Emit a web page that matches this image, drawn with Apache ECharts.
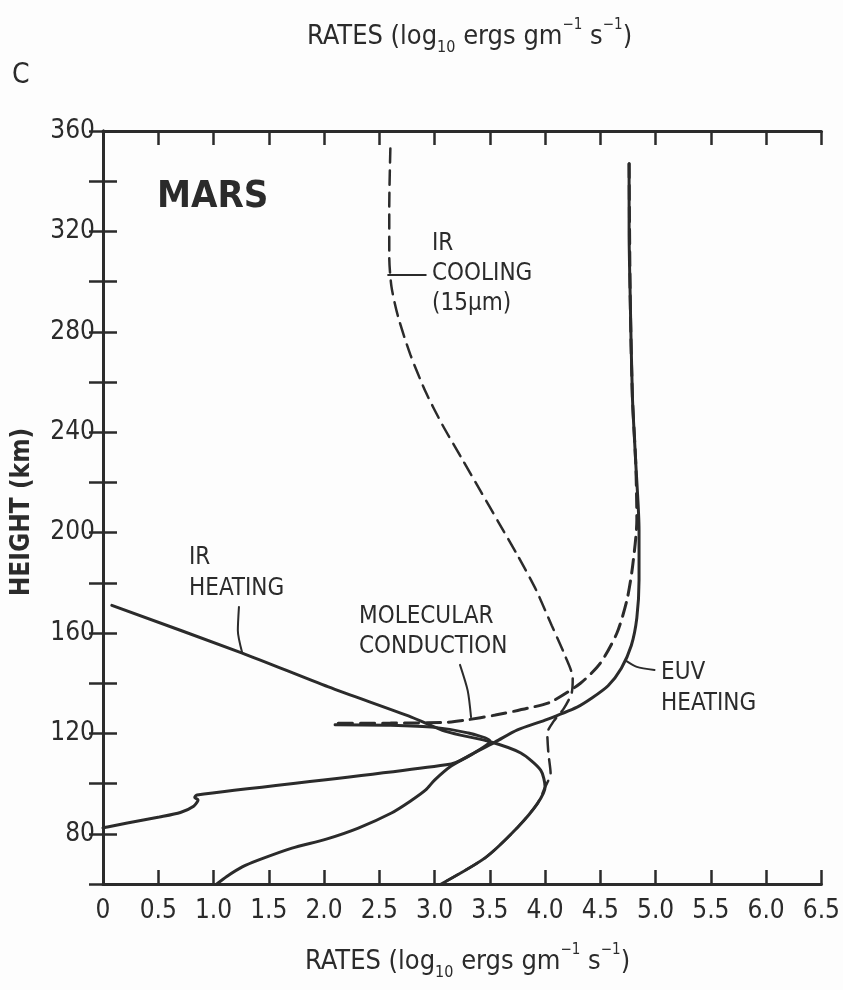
<!DOCTYPE html>
<html>
<head>
<meta charset="utf-8">
<script src="https://cdn.jsdelivr.net/npm/echarts@6/dist/echarts.min.js"></script>
<style>
  html, body { margin: 0; padding: 0; background: #fdfdfd; }
  #chart { width: 843px; height: 990px; }
</style>
</head>
<body>
<div id="chart"></div>
<script>
// rates (log10 ergs/gm/s) vs height (km)
var euvHeating = [
  [4.76, 347], [4.76, 320], [4.77, 294], [4.79, 254], [4.82, 228], [4.85, 201],
  [4.85, 181], [4.83, 166], [4.78, 155], [4.69, 146], [4.57, 139], [4.42, 134],
  [4.29, 130.5], [4.0, 125.3], [3.75, 121.4], [3.55, 116.6], [3.35, 112], [3.15, 107],
  [3.0, 101.4], [2.92, 97.5], [2.78, 93], [2.61, 88.3], [2.31, 82.3], [2.02, 77.9],
  [1.71, 74.3], [1.41, 69.6], [1.26, 66.8], [1.12, 63], [1.03, 60]
];
var irHeating = [
  [0.08, 171], [1.26, 152], [2.04, 138.5], [2.79, 126.5], [3.1, 120.8], [3.51, 116.6],
  [3.78, 112.2], [3.96, 105.4], [4.0, 98.6], [3.93, 92], [3.75, 82.5], [3.46, 70.5], [3.06, 60]
];
var irCooling = [
  [2.60, 353], [2.59, 330], [2.59, 310], [2.61, 298], [2.67, 286], [2.78, 271],
  [2.92, 256], [3.07, 243], [3.24, 230], [3.41, 217], [3.58, 204], [3.75, 191],
  [3.92, 177], [4.06, 163], [4.18, 151], [4.25, 142], [4.24, 136], [4.17, 130],
  [4.08, 125], [4.02, 120], [4.03, 112], [4.05, 104], [4.0, 98.6], [3.93, 92],
  [3.75, 82.5], [3.46, 70.5], [3.06, 60]
];
var conductionUpper = [
  [4.76, 347], [4.77, 294], [4.79, 254], [4.82, 228], [4.83, 205], [4.79, 186],
  [4.74, 173], [4.65, 160], [4.5, 148], [4.32, 140], [4.05, 132.5], [3.84, 130],
  [3.55, 127.3], [3.28, 125.3], [3.1, 124.4], [2.6, 124.1], [2.1, 124]
];
var conductionLower = [
  [2.1, 123.4], [2.6, 123.2], [3.0, 122.4], [3.3, 120.2], [3.5, 117], [3.35, 112],
  [3.15, 107.8], [0.85, 95.5], [0.83, 94.5], [0.86, 93.5], [0.82, 91], [0.7, 88.5],
  [0.51, 86.7], [0.22, 84.3], [0.04, 82.7], [0, 82.3]
];
// label leader lines
var irCoolingLeader = [[2.58, 302.6], [2.92, 302.6]];
var irHeatingLeader = [[1.23, 170.4], [1.22, 161], [1.26, 152]];
var conductionLeader = [[3.23, 147.3], [3.3, 137], [3.33, 126.5]];
var euvLeader = [[4.73, 149], [4.83, 146.5], [4.99, 145.3]];

var xMin = 0, xMax = 6.5, xStep = 0.5;
var yMin = 60, yMax = 360, yStep = 20;

var ink = '#2b2b2b';
var font = "'Liberation Sans Narrow', 'DejaVu Sans Condensed', sans-serif";

var chart = echarts.init(document.getElementById('chart'));

function lineSeries(data, dashed, width) {
  return {
    type: 'line',
    data: data,
    symbol: 'none',
    smooth: 0.25,
    silent: true,
    lineStyle: { color: ink, width: width || 3, type: dashed ? [14, 8] : 'solid', cap: 'round' }
  };
}

var rich = {
  m: { fontSize: 27, fontFamily: font, fontWeight: 'normal', color: ink, lineHeight: 38, verticalAlign: 'middle' },
  s: { fontSize: 16, fontFamily: font, fontWeight: 'normal', color: ink, lineHeight: 16, verticalAlign: 'bottom' },
  p: { fontSize: 15, fontFamily: font, fontWeight: 'normal', color: ink, lineHeight: 15, verticalAlign: 'top' }
};
var axisTitle = '{m|RATES (log}{s|10}{m| ergs gm}{p|−1}{m| s}{p|−1}{m|)}';

var option = {
  backgroundColor: '#fdfdfd',
  animation: false,
  title: [
    { text: axisTitle, left: 302, top: 13, textStyle: { fontWeight: 'normal', rich: rich } },
    { text: axisTitle, left: 300, top: 938, textStyle: { fontWeight: 'normal', rich: rich } }
  ],
  grid: { left: 103, right: 18, top: 131, bottom: 106 },
  xAxis: [
    {
      type: 'value', min: xMin, max: xMax, interval: xStep, position: 'bottom',
      axisLine: { lineStyle: { color: ink, width: 3 } },
      axisTick: { inside: true, length: 14, lineStyle: { color: ink, width: 2.5 } },
      axisLabel: {
        color: ink, fontSize: 26, fontFamily: font, margin: 14,
        formatter: function (v) { return v === 0 ? '0' : v.toFixed(1); }
      },
      splitLine: { show: false }
    },
    {
      type: 'value', min: xMin, max: xMax, interval: xStep, position: 'top',
      axisLine: { lineStyle: { color: ink, width: 3 } },
      axisTick: { inside: true, length: 14, lineStyle: { color: ink, width: 2.5 } },
      axisLabel: { show: false },
      splitLine: { show: false }
    }
  ],
  yAxis: [
    {
      type: 'value', min: yMin, max: yMax, interval: yStep, position: 'left',
      axisLine: { lineStyle: { color: ink, width: 3 } },
      axisTick: { inside: true, length: 14, lineStyle: { color: ink, width: 2.5 } },
      axisLabel: {
        color: ink, fontSize: 26, fontFamily: font, margin: 8,
        formatter: function (v) { return (v >= 80 && v % 40 === 0) ? String(v) : ''; }
      },
      splitLine: { show: false }
    },
    {
      type: 'value', min: yMin, max: yMax, interval: yStep, position: 'right',
      axisLine: { lineStyle: { color: ink, width: 3 } },
      axisTick: { inside: true, length: 14, lineStyle: { color: ink, width: 2.5 } },
      axisLabel: { show: false },
      splitLine: { show: false }
    }
  ],
  series: [
    lineSeries(euvHeating, false),
    lineSeries(irHeating, false),
    lineSeries(irCooling, true, 2.5),
    lineSeries(conductionUpper, true, 3),
    lineSeries(conductionLower, false),
    lineSeries(irCoolingLeader, false, 2),
    lineSeries(irHeatingLeader, false, 2),
    lineSeries(conductionLeader, false, 2),
    lineSeries(euvLeader, false, 2)
  ],
  graphic: [
    { type: 'text', left: 12, top: 62, style: { text: 'C', font: '28px ' + font, fill: ink } },
    {
      type: 'text', x: 22, y: 512, rotation: Math.PI / 2,
      style: { text: 'HEIGHT (km)', font: 'bold 26px ' + font, fill: ink, align: 'center', verticalAlign: 'middle' }
    },
    { type: 'text', left: 157, top: 178, style: { text: 'MARS', font: 'bold 38px ' + font, fill: ink } },
    { type: 'text', left: 432, top: 229, style: { text: 'IR\nCOOLING\n(15μm)', font: '24px ' + font, fill: ink, lineHeight: 30 } },
    { type: 'text', left: 189, top: 542, style: { text: 'IR\nHEATING', font: '24px ' + font, fill: ink, lineHeight: 31 } },
    { type: 'text', left: 359, top: 602, style: { text: 'MOLECULAR\nCONDUCTION', font: '24px ' + font, fill: ink, lineHeight: 30 } },
    { type: 'text', left: 661, top: 657, style: { text: 'EUV\nHEATING', font: '24px ' + font, fill: ink, lineHeight: 31 } }
  ]
};

chart.setOption(option);
</script>
</body>
</html>
